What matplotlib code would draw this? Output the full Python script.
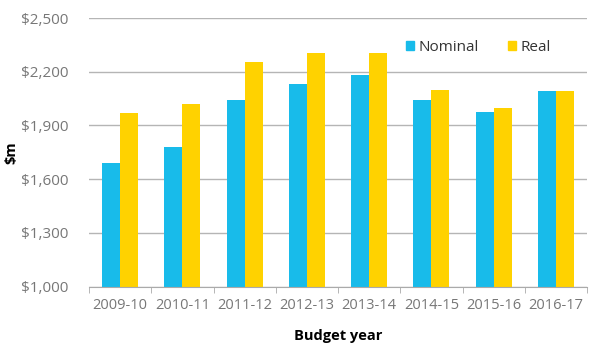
import matplotlib
matplotlib.use("Agg")
import matplotlib.pyplot as plt
import numpy as np
from matplotlib.patches import Patch

years = ["2009-10", "2010-11", "2011-12", "2012-13", "2013-14",
         "2014-15", "2015-16", "2016-17"]
nominal = [1689, 1778, 2044, 2130, 2184, 2042, 1977, 2093]
real = [1971, 2018, 2253, 2306, 2306, 2098, 1999, 2093]
yticks = [1000, 1300, 1600, 1900, 2200, 2500]

C_NOM, C_REAL = "#18bbea", "#ffd200"
GREY = "#777777"

plt.rcParams["font.family"] = ["Open Sans", "DejaVu Sans"]

fig = plt.figure(figsize=(6.03, 3.6), dpi=100)
ax = fig.add_axes([0.1476, 0.2036, 0.8259, 0.7464])

x = np.arange(len(years))
w = 0.29
ax.bar(x - w / 2, np.array(nominal) - 1000, w, bottom=1000, color=C_NOM,
       zorder=3)
ax.bar(x + w / 2, np.array(real) - 1000, w, bottom=1000, color=C_REAL,
       zorder=3)

ax.set_xlim(-0.5, len(years) - 0.5)
ax.set_ylim(1000, 2500)
ax.set_yticks(yticks)
ax.set_yticklabels([f"${v:,}" for v in yticks])
ax.yaxis.grid(True, color="#b5b5b5", lw=1.0, zorder=0)
ax.tick_params(axis="y", length=0, pad=15, labelsize=11, labelcolor=GREY)

ax.set_xticks(x)
ax.set_xticklabels(years)
ax.tick_params(axis="x", length=0, pad=8, labelsize=10.5, labelcolor=GREY)
ax.set_xticks(np.arange(len(years) + 1) - 0.5, minor=True)
ax.tick_params(axis="x", which="minor", length=4, color="#aaaaaa",
               direction="out")

for s in ("left", "right", "top"):
    ax.spines[s].set_visible(False)
ax.spines["bottom"].set_color("#aaaaaa")
ax.spines["bottom"].set_zorder(4)

# y label sits far out at the figure's left edge
fig.text(11 / 603, 1 - 153 / 360, "$m", rotation=90, ha="center",
         va="center", fontsize=10.5, fontweight="bold")
ax.set_xlabel("Budget year", fontsize=10.5, fontweight="bold", labelpad=12)

handles = [Patch(color=C_NOM, label="Nominal"),
           Patch(color=C_REAL, label="Real")]
ax.legend(handles=handles, loc="center left", bbox_to_anchor=(0.608, 0.89),
          ncol=2, frameon=False, fontsize=11, handlelength=0.55,
          handleheight=0.55, handletextpad=0.3, columnspacing=1.9,
          labelcolor="#333333")

fig.savefig("out.png", dpi=100)
